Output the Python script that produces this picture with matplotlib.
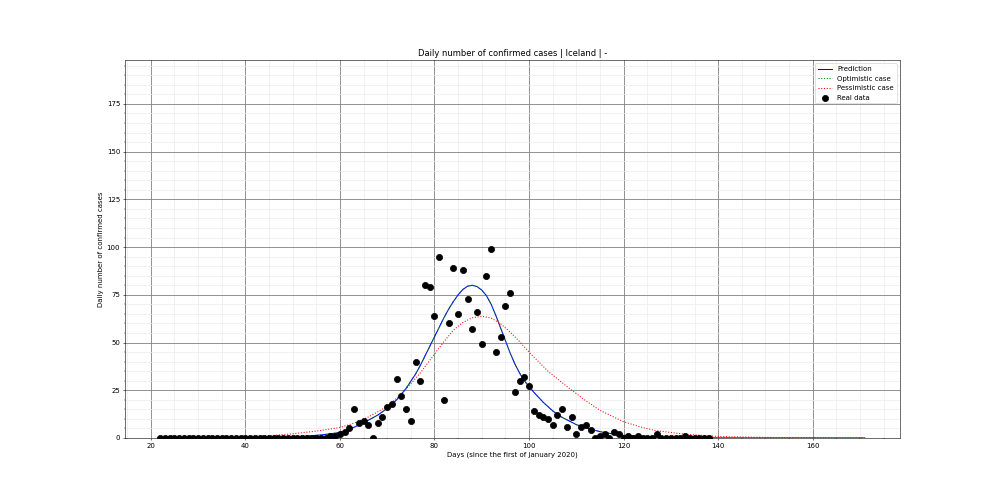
import matplotlib
matplotlib.use("Agg")
import matplotlib.pyplot as plt
import numpy as np

# real data, one value per day (day 22 .. 138)
real_days = list(range(22, 139))
real_cases = [0] * 35 + [
    0, 1, 1, 2, 3, 5, 15, 8, 9, 7, 0, 8, 11, 16, 18, 31, 22, 15, 9, 40,
    30, 80, 79, 64, 95, 20, 60, 89, 65, 88, 73, 57, 66, 49, 85, 99, 45, 53, 69, 76,
    24, 30, 32, 27, 14, 12, 11, 10, 7, 12, 15, 6, 11, 2, 6, 7, 4, 0, 1, 2,
    0, 3, 2, 0, 1, 0, 1, 0, 0, 0, 2, 0, 0, 0, 0, 0, 1, 0, 0, 0, 0, 0]

# model curves
pred_days = [22, 30, 40, 45, 50, 53, 56, 58, 60, 62, 64, 66, 68, 70, 72, 74, 76, 77, 78,
             79, 80, 81, 82, 83, 84, 85, 86, 87, 88, 89, 90, 91, 92, 93, 94, 95, 96,
             97, 98, 99, 100, 101, 103, 105, 107, 110, 113, 116, 120, 125, 130, 140,
             150, 171]
pred_cases = [0, 0, 0.1, 0.3, 0.6, 1.0, 1.6, 2.2, 2.9, 4.5, 6.8, 9.3, 12, 15.5, 20,
              26, 33.5, 38, 43, 48, 53, 58, 63, 67.5, 71.5, 75, 77.8, 79.5, 80, 79.3,
              77.5, 74.5, 70, 64, 57.5, 51, 44.5, 38.8, 34, 30, 27, 24, 18.7, 14.2,
              10.8, 7, 4.5, 2.8, 1.4, 0.6, 0.25, 0.05, 0.01, 0]

opt_days = pred_days
opt_cases = pred_cases

pess_days = [22, 30, 40, 45, 50, 55, 60, 63, 66, 70, 73, 77, 80, 82, 84, 86, 88, 90,
             92, 94, 96, 98, 100, 104, 108, 112, 115, 120, 124, 127, 133, 140, 150,
             160, 171]
pess_cases = [0.1, 0.2, 0.6, 1.2, 2.2, 3.6, 5.5, 7.8, 11, 16.5, 23, 34, 44, 50.5,
              56.5, 60.5, 63, 63.8, 62.8, 59.8, 55.5, 50.5, 45, 35, 27, 19.5, 14.5,
              8.5, 5.5, 3.8, 2, 0.8, 0.3, 0.1, 0.05]

fig, ax = plt.subplots(figsize=(20, 10), dpi=50)
fig.subplots_adjust(left=0.125, right=0.9, bottom=0.124, top=0.88)

ax.plot(pred_days, pred_cases, color="blue", lw=1.5, label="Prediction")
ax.plot(opt_days, opt_cases, color="green", ls=":", lw=1.5, label="Optimistic case")
ax.plot(pess_days, pess_cases, color="red", ls=":", lw=1.5, label="Pessimistic case")
ax.scatter(real_days, real_cases, color="black", s=80, zorder=3, label="Real data")

ax.set_ylim(0, 2 * max(real_cases))
ax.minorticks_on()
ax.grid(which="major", color="gray", lw=1.2)
ax.grid(which="minor", color="#ececec", lw=1)
ax.set_axisbelow(True)

ax.set_title("Daily number of confirmed cases | Iceland | -")
ax.set_xlabel("Days (since the first of january 2020)")
ax.set_ylabel("Daily number of confirmed cases")
ax.legend(loc="upper right")

plt.savefig("out.png", dpi=50)
